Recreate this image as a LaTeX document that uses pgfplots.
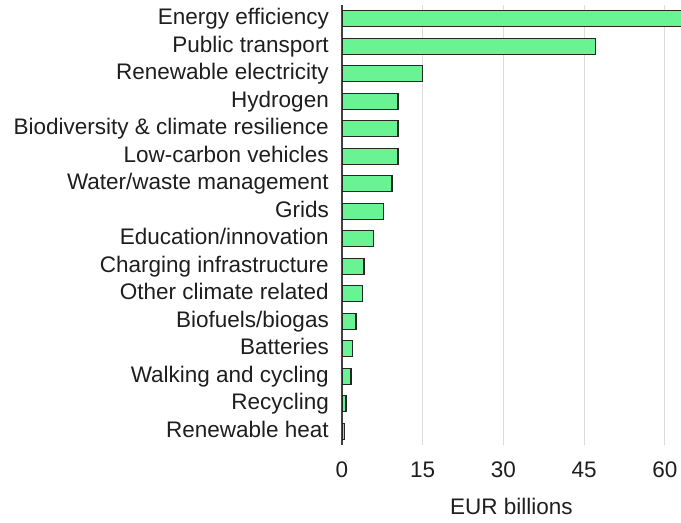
\documentclass[border=0pt]{standalone}
\usepackage{fontspec}
\setmainfont{Liberation Sans}
\usepackage{pgfplots}
\usetikzlibrary{calc}
\pgfplotsset{compat=1.18}
\definecolor{barg}{RGB}{106,243,146}
\definecolor{gridc}{RGB}{220,220,220}
\definecolor{txt}{RGB}{30,30,30}
\begin{document}
\begin{tikzpicture}
\begin{axis}[name=ax, scale only axis, width=339bp, height=440bp,
  xbar, xmin=0, xmax=63, ymin=-0.5, ymax=15.5,
  bar width=16bp,
  axis lines=left,
  x axis line style={draw=none},
  y axis line style={draw=black!75, line width=1.3bp, -},
  major tick length=0pt,
  xmajorgrids, grid style={gridc, line width=1bp},
  xtick={0,15,30,45,60},
  ytick={0,...,15},
  yticklabels={Renewable heat, Recycling, Walking and cycling, Batteries, Biofuels/biogas, Other climate related, Charging infrastructure, Education/innovation, Grids, Water/waste management, Low-carbon vehicles, Biodiversity \& climate resilience, Hydrogen, Renewable electricity, Public transport, Energy efficiency},
  /pgf/number format/assume math mode=true,
  tick label style={font=\fontsize{22.5bp}{26bp}\selectfont, text=txt},
  yticklabel style={inner sep=0pt, xshift=-13bp, text height=15bp, text depth=3bp},
  xticklabel style={inner sep=0pt, yshift=-17bp},
  xlabel={EUR billions},
  xlabel style={font=\fontsize{22.5bp}{26bp}\selectfont, text=txt, inner sep=0pt, yshift=-20bp},
  clip=true,
]
\addplot[fill=barg, draw=black!85, line width=1.3bp] coordinates {
  (0.5,0) (0.75,1) (1.7,2) (2.0,3) (2.6,4) (3.8,5) (4.1,6) (5.9,7)
  (7.7,8) (9.3,9) (10.4,10) (10.4,11) (10.4,12) (15.0,13) (47.1,14) (66,15)
};
\end{axis}
\pgfresetboundingbox
\useasboundingbox ($(ax.south west)+(-342bp,-78bp)$) rectangle ($(ax.south west)+(339bp,445bp)$);
\end{tikzpicture}
\end{document}
